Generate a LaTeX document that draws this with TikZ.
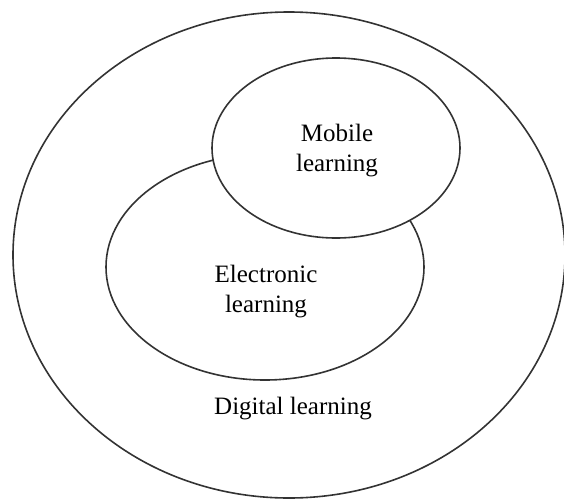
\documentclass[tikz,border=0pt]{standalone}
\usepackage{fontspec}
\setmainfont{Liberation Serif}
\usetikzlibrary{shapes.geometric}
\begin{document}
\begin{tikzpicture}[x=1pt,y=-1pt,
  ring/.style={draw=black!80,line width=1.6pt,ellipse,inner sep=0pt},
  lbl/.style={font=\fontsize{25}{30}\selectfont,align=center,text=black}]
\useasboundingbox (0,0) rectangle (564,498);
\begin{scope}
\clip (0,0) rectangle (564,498);
\node[ring,minimum width=552pt,minimum height=486pt] (digital) at (289,255) {};
\end{scope}
\node[ring,minimum width=318pt,minimum height=226pt] (electronic) at (265,267) {};
\node[ring,fill=white,minimum width=248pt,minimum height=180pt] (mobile) at (336,148) {};
\node[lbl] (mobtext) at (337,151) {Mobile\\learning};
\node[lbl] (eltext) at (266,292) {Electronic\\learning};
\node[lbl] (digtext) at (293,409) {Digital learning};
\end{tikzpicture}
\end{document}
